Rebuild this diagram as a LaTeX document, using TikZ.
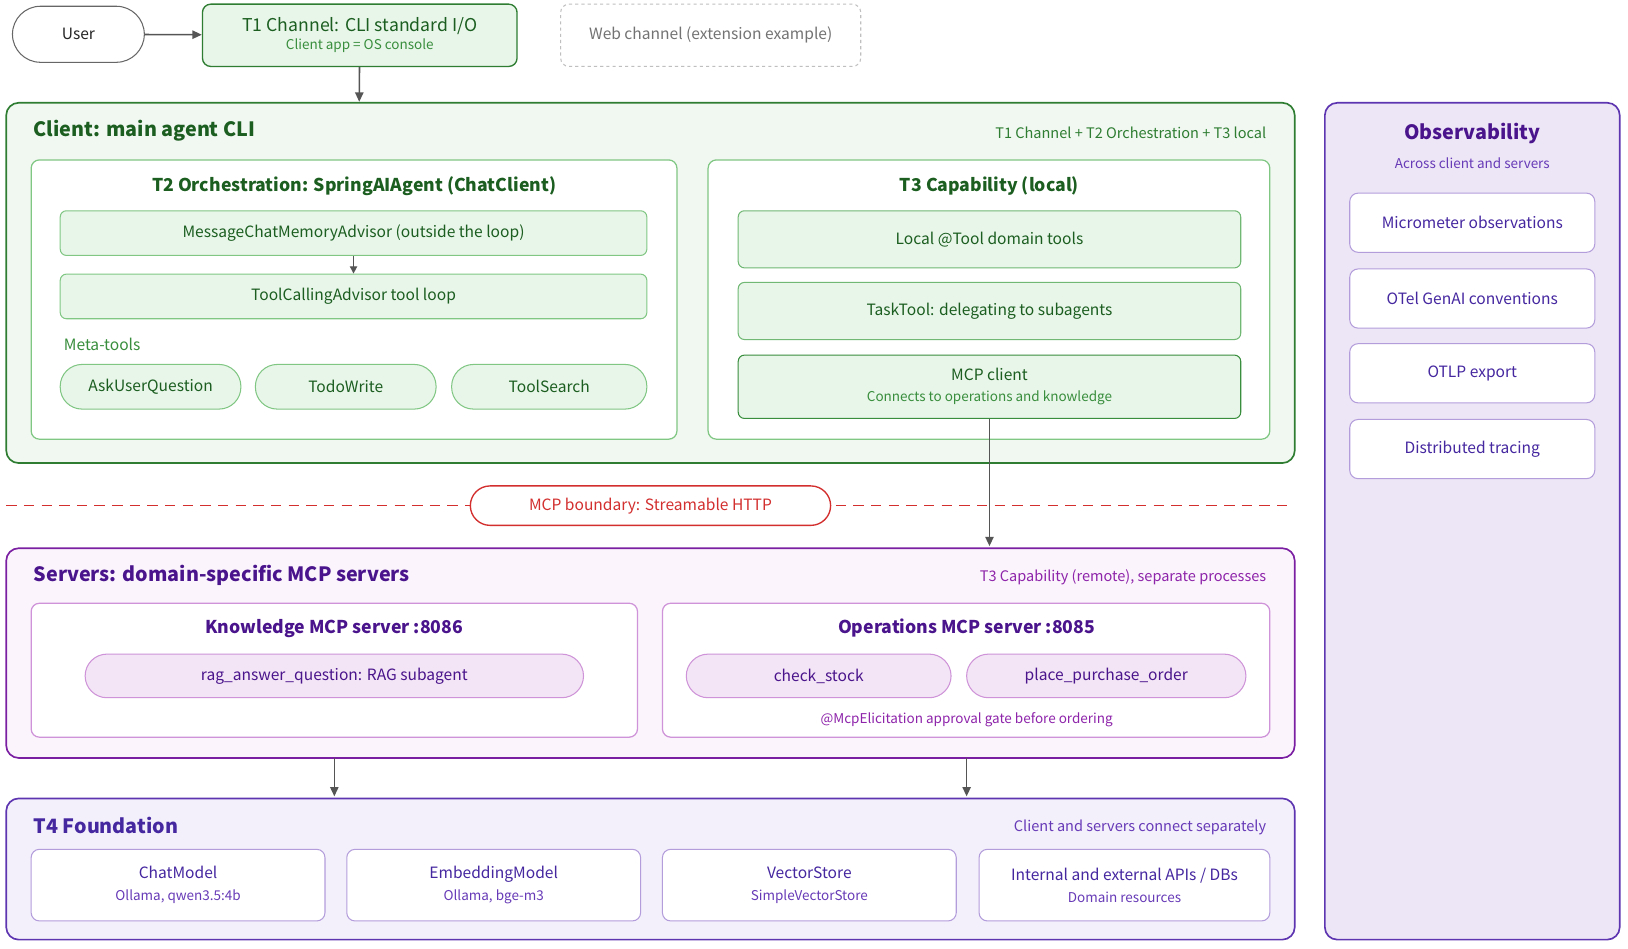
\documentclass[tikz,border=0pt]{standalone}
\usepackage{fontspec}
\setmainfont{Noto Sans CJK KR}
\usetikzlibrary{arrows.meta}
\definecolor{gD}{HTML}{1B5E20}\definecolor{gB}{HTML}{2E7D32}\definecolor{gF}{HTML}{F1F8F1}
\definecolor{gIF}{HTML}{E8F5E9}\definecolor{gIB}{HTML}{81C784}\definecolor{gS}{HTML}{388E3C}
\definecolor{pB}{HTML}{7B1FA2}\definecolor{pF}{HTML}{FBF4FC}\definecolor{pT}{HTML}{4A148C}
\definecolor{pIF}{HTML}{F3E5F5}\definecolor{pIB}{HTML}{CE93D8}\definecolor{pS}{HTML}{8E24AA}
\definecolor{vB}{HTML}{5E35B1}\definecolor{vF}{HTML}{F3EFFB}\definecolor{vT}{HTML}{4527A0}
\definecolor{vIB}{HTML}{B39DDB}\definecolor{vS}{HTML}{673AB7}\definecolor{oF}{HTML}{EDE6F6}
\definecolor{rR}{HTML}{D32F2F}\definecolor{ar}{HTML}{555555}
\newcommand{\smalltxt}{\fontsize{13}{16}\selectfont}
\tikzset{
 bx/.style={draw, rounded corners=8pt, line width=1pt, inner sep=0pt, align=center},
 big/.style={draw, rounded corners=12pt, line width=1.6pt},
 ttl/.style={font=\fontsize{19}{22}\selectfont\bfseries, anchor=west},
 rt/.style={font=\fontsize{14}{16}\selectfont, anchor=east},
 sub/.style={font=\smalltxt},
 arr/.style={-{Triangle[length=9pt,width=8pt]}, line width=1.5pt, draw=ar},
 txt/.style={font=\fontsize{15}{18}\selectfont},
}
\newcommand{\bxat}[7]{% name x1 y1 x2 y2 style text
 \node[bx,#6,minimum width={(#4-#2)*1pt},minimum height={(#5-#3)*1pt}] (#1) at ({(#2+#4)/2},{(#3+#5)/2}) {#7};}
\begin{document}
\begin{tikzpicture}[x=1pt,y=-1pt]
\useasboundingbox[fill=white] (0,0) rectangle (1568,914);
% top
\bxat{user}{12}{6}{139}{60}{draw=gray!80!black,rounded corners=27pt,fill=white,txt,text=black!85}{User}
\bxat{t1}{195}{4}{498}{64}{draw=gB,fill=gIF,line width=1.3pt,text=gD}{{\fontsize{17}{20}\selectfont T1 Channel: CLI standard I/O}\\[3pt]{\smalltxt\color{gS}Client app = OS console}}
\bxat{web}{540}{4}{829}{64}{draw=gray!50,dashed,fill=white,txt,text=gray!90!black}{Web channel (extension example)}
% client
\draw[big,draw=gB,fill=gF] (6,99) rectangle (1247,446);
\node[ttl,text=gD] (ct) at (29,126) {Client: main agent CLI};
\node[rt,text=gB] (cr) at (1223,128) {T1 Channel + T2 Orchestration + T3 local};
\draw[draw=gIB,fill=white,rounded corners=8pt,line width=1.2pt] (30,154) rectangle (652,423);
\node[font=\fontsize{17}{20}\selectfont\bfseries,text=gD] (t2t) at (341,179) {T2 Orchestration: SpringAIAgent (ChatClient)};
\bxat{mcm}{58}{203}{623}{246}{draw=gIB,fill=gIF,txt,text=gD,rounded corners=6pt}{MessageChatMemoryAdvisor (outside the loop)}
\bxat{tca}{58}{264}{623}{307}{draw=gIB,fill=gIF,txt,text=gD,rounded corners=6pt}{ToolCallingAdvisor tool loop}
\node[txt,text=gS,anchor=west] (meta) at (58,332) {Meta-tools};
\bxat{ask}{58}{351}{232}{394}{draw=gIB,fill=gIF,txt,text=gD,rounded corners=21pt}{AskUserQuestion}
\bxat{todo}{246}{351}{420}{394}{draw=gIB,fill=gIF,txt,text=gD,rounded corners=21pt}{TodoWrite}
\bxat{ts}{435}{351}{623}{394}{draw=gIB,fill=gIF,txt,text=gD,rounded corners=21pt}{ToolSearch}
\draw[draw=gIB,fill=white,rounded corners=8pt,line width=1.2pt] (682,154) rectangle (1223,423);
\node[font=\fontsize{17}{20}\selectfont\bfseries,text=gD] (t3t) at (953,179) {T3 Capability (local)};
\bxat{lt}{711}{203}{1195}{258}{draw=gIB!80!gB,fill=gIF,txt,text=gD,rounded corners=6pt}{Local @Tool domain tools}
\bxat{tt}{711}{272}{1195}{327}{draw=gIB!80!gB,fill=gIF,txt,text=gD,rounded corners=6pt}{TaskTool: delegating to subagents}
\bxat{mc}{711}{342}{1195}{403}{draw=gS,fill=gIF,txt,text=gD,rounded corners=6pt}{MCP client\\[2pt]{\smalltxt\color{gS}Connects to operations and knowledge}}
% boundary
\coordinate (bl) at (6,487); \coordinate (br) at (1247,487);
\draw[rR,dash pattern=on 10pt off 7pt,line width=1.6pt] (bl) -- (br);
\bxat{mb}{453}{468}{800}{506}{draw=rR,fill=white,rounded corners=19pt,txt,text=rR,line width=1.3pt}{MCP boundary: Streamable HTTP}
% servers
\draw[big,draw=pB,fill=pF] (6,528) rectangle (1247,730);
\node[ttl,text=pT] (st) at (29,554) {Servers: domain-specific MCP servers};
\node[rt,text=pS] (sr) at (1223,556) {T3 Capability (remote), separate processes};
\draw[draw=pIB,fill=white,rounded corners=8pt,line width=1.2pt] (30,581) rectangle (614,710);
\node[font=\fontsize{17}{20}\selectfont\bfseries,text=pT] (kt) at (322,605) {Knowledge MCP server :8086};
\bxat{rag}{82}{630}{562}{672}{draw=pIB,fill=pIF,txt,text=pT,rounded corners=21pt}{rag\_answer\_question: RAG subagent}
\draw[draw=pIB,fill=white,rounded corners=8pt,line width=1.2pt] (638,581) rectangle (1223,710);
\node[font=\fontsize{17}{20}\selectfont\bfseries,text=pT] (ot) at (931,605) {Operations MCP server :8085};
\bxat{cs}{661}{630}{916}{672}{draw=pIB,fill=pIF,txt,text=pT,rounded corners=21pt}{check\_stock}
\bxat{ppo}{931}{630}{1200}{672}{draw=pIB,fill=pIF,txt,text=pT,rounded corners=21pt}{place\_purchase\_order}
\node[sub,text=pS] (el) at (931,693) {@McpElicitation approval gate before ordering};
% T4
\draw[big,draw=vB,fill=vF] (6,769) rectangle (1247,905);
\node[ttl,text=vT] (ft) at (29,795) {T4 Foundation};
\node[rt,text=vS] (fr) at (1223,797) {Client and servers connect separately};
\bxat{cm}{30}{818}{313}{887}{draw=vIB,fill=white,txt,text=vT}{ChatModel\\[3pt]{\smalltxt\color{vS}Ollama, qwen3.5:4b}}
\bxat{em}{334}{818}{617}{887}{draw=vIB,fill=white,txt,text=vT}{EmbeddingModel\\[3pt]{\smalltxt\color{vS}Ollama, bge-m3}}
\bxat{vs}{638}{818}{921}{887}{draw=vIB,fill=white,txt,text=vT}{VectorStore\\[3pt]{\smalltxt\color{vS}SimpleVectorStore}}
\bxat{ap}{943}{818}{1223}{887}{draw=vIB,fill=white,txt,text=vT}{Internal and external APIs / DBs\\[3pt]{\smalltxt\color{vS}Domain resources}}
% observability
\draw[big,draw=vB,fill=oF] (1276,99) rectangle (1560,905);
\node[font=\fontsize{19}{22}\selectfont\bfseries,text=pT] (obt) at (1418,129) {Observability};
\node[sub,text=vS] (obs) at (1418,157) {Across client and servers};
\bxat{o1}{1300}{186}{1536}{243}{draw=vIB,fill=white,txt,text=vT}{Micrometer observations}
\bxat{o2}{1300}{259}{1536}{316}{draw=vIB,fill=white,txt,text=vT}{OTel GenAI conventions}
\bxat{o3}{1300}{331}{1536}{388}{draw=vIB,fill=white,txt,text=vT}{OTLP export}
\bxat{o4}{1300}{404}{1536}{461}{draw=vIB,fill=white,txt,text=vT}{Distributed tracing}
% arrows
\coordinate (clientTop) at (346,98);
\coordinate (srvTop) at (953,526);
\coordinate (k1) at (322,730); \coordinate (k2) at (322,767);
\coordinate (p1) at (931,730); \coordinate (p2) at (931,767);
\draw[arr] (user) -- (t1);
\draw[arr] (t1) -- (clientTop);
\draw[arr,-{Triangle[length=7pt,width=7pt]},line width=1.2pt] (mcm) -- (tca);
\draw[arr] (mc) -- (srvTop);
\draw[arr] (k1) -- (k2);
\draw[arr] (p1) -- (p2);
\end{tikzpicture}
\end{document}
